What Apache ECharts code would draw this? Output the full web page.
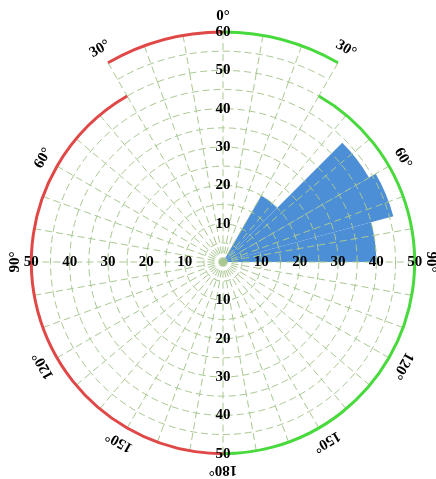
<!DOCTYPE html>
<html>
<head>
<meta charset="utf-8">
<style>html,body{margin:0;padding:0;background:#fff;}#c{width:436px;height:479px;}</style>
<script src="https://cdn.jsdelivr.net/npm/echarts@6/dist/echarts.min.js"></script>
</head>
<body>
<div id="c"></div>
<script>
// ---- data ----
const sectorCategories = ['0','15','30','45','60','75','90','105','120','135','150','165','180','195','210','225','240','255','270','285','300','315','330','345'];
const sectorValues = [0,0,20,44,46,40,0,0,0,0,0,0,0,0,0,0,0,0,0,0,0,0,0,0];
const angleTicks = [0,30,60,90,120,150,180,210,240,270,300,330];
const angleTickLabels = ['0°','30°','60°','90°','120°','150°','180°','150°','120°','90°','60°','30°'];
const radiusTicksUp = [10,20,30,40,50,60];
const radiusTicksSide = [10,20,30,40,50];
const radiusLabelDirections = [90,180,270];

const CENTER = [223, 262];
const PX = 230 / 60;
const gridColor = '#a9c891';
const red = '#e04848', green = '#48d93c';
const ringColor = {type:'linear', x:0, y:0, x2:1, y2:0, colorStops:[
  {offset:0, color:red},{offset:0.5, color:red},{offset:0.5, color:green},{offset:1, color:green}]};
const FONT = 'bold 15px "Liberation Serif", "DejaVu Serif", serif';
const dashed = {color: gridColor, width: 1, type: [7, 4]};
const hidden = {axisLine:{show:false}, axisTick:{show:false}, axisLabel:{show:false}, splitLine:{show:false}};

const radiusLabelData = radiusTicksUp.map(r => [r, 0]);
radiusLabelDirections.forEach(a => radiusTicksSide.forEach(r => radiusLabelData.push([r, a])));
const angleLabelData = angleTicks.map(a => [(a <= 30 || a >= 330) ? 60 : 50, a]);

const chart = echarts.init(document.getElementById('c'));
chart.setOption({
  backgroundColor: '#fff',
  animation: false,
  polar: [
    {center: CENTER, radius: 50 * PX},            // 0 full grid 0..50
    {center: CENTER, radius: [50 * PX, 60 * PX]}, // 1 top sector grid 50..60
    {center: CENTER, radius: 50 * PX},            // 2 outer arc 30..330
    {center: CENTER, radius: 60 * PX},            // 3 outer arc -30..30
    {center: CENTER, radius: 60 * PX},            // 4 labels
    {center: CENTER, radius: 50 * PX}             // 5 bars
  ],
  angleAxis: [
    {polarIndex:0, type:'value', min:0, max:360, interval:10, startAngle:90, clockwise:true,
     axisLine:{show:false}, axisTick:{show:false}, axisLabel:{show:false}, splitLine:{show:true, lineStyle:dashed}},
    {polarIndex:1, type:'value', min:-30, max:30, interval:10, startAngle:120, endAngle:60, clockwise:true,
     axisLine:{show:false}, axisTick:{show:false}, axisLabel:{show:false}, splitLine:{show:true, lineStyle:dashed}},
    Object.assign({polarIndex:2, type:'value', min:30, max:330, startAngle:60, endAngle:-240, clockwise:true}, hidden,
     {axisLine:{show:true, lineStyle:{color:ringColor, width:3}}}),
    Object.assign({polarIndex:3, type:'value', min:-30, max:30, startAngle:120, endAngle:60, clockwise:true}, hidden,
     {axisLine:{show:true, lineStyle:{color:ringColor, width:3}}}),
    {polarIndex:4, type:'value', min:0, max:360, startAngle:90, clockwise:true, show:false},
    {polarIndex:5, type:'category', data:sectorCategories, startAngle:90, clockwise:true, show:false}
  ],
  radiusAxis: [
    Object.assign({polarIndex:0, type:'value', min:0, max:50, interval:5}, hidden, {splitLine:{show:true, lineStyle:dashed}}),
    Object.assign({polarIndex:1, type:'value', min:50, max:60, interval:5}, hidden,
      {splitLine:{show:true, lineStyle:Object.assign({}, dashed, {color:['rgba(0,0,0,0)', gridColor, gridColor]})}}),
    Object.assign({polarIndex:2, type:'value', min:0, max:50}, hidden),
    Object.assign({polarIndex:3, type:'value', min:0, max:60}, hidden),
    {polarIndex:4, type:'value', min:0, max:60, show:false},
    {polarIndex:5, type:'value', min:0, max:50, show:false}
  ],
  series: [
    {type:'bar', coordinateSystem:'polar', polarIndex:5, data:sectorValues, barCategoryGap:'0%', z:-1,
     itemStyle:{color:'#4d8fd6'}},
    {type:'custom', coordinateSystem:'polar', polarIndex:4, z:20, data:angleLabelData, silent:true,
     renderItem: function(params, api){
       const r = api.value(0), a = api.value(1);
       const p = api.coord([r, a]);
       const c = api.coord([0, a]);
       const dx = p[0]-c[0], dy = p[1]-c[1];
       const len = Math.sqrt(dx*dx+dy*dy) || 1;
       const off = 16;
       return {type:'text', x: p[0]+dx/len*off, y: p[1]+dy/len*off, rotation: -a*Math.PI/180,
         style:{text: angleTickLabels[params.dataIndex], font: FONT, fill:'#000', align:'center', verticalAlign:'middle'}};
     }},
    {type:'custom', coordinateSystem:'polar', polarIndex:4, z:20, data:radiusLabelData, silent:true,
     renderItem: function(params, api){
       const p = api.coord([api.value(0), api.value(1)]);
       return {type:'text', x:p[0], y:p[1],
         style:{text: String(api.value(0)), font: FONT, fill:'#000', align:'center', verticalAlign:'middle'}};
     }}
  ]
});
</script>
</body>
</html>
